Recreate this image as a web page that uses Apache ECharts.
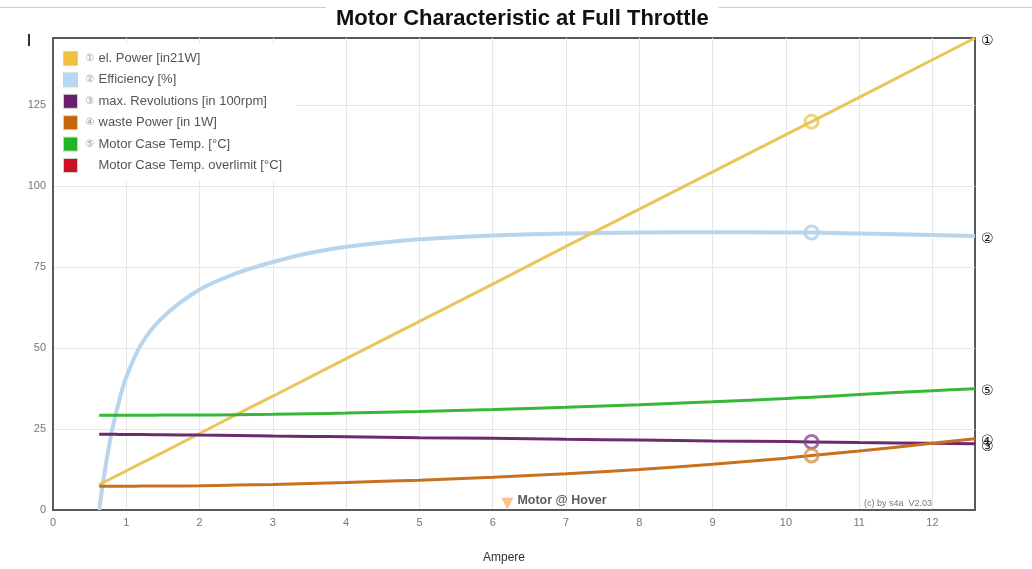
<!DOCTYPE html>
<html><head><meta charset="utf-8">
<script src="https://cdn.jsdelivr.net/npm/echarts@6/dist/echarts.min.js"></script>
<style>html,body{margin:0;padding:0;background:#fff}#c{width:1032px;height:569px}</style>
</head><body><div id="c"></div>
<script>
// ---- data ----
const ampere      = [0.63, 0.7, 0.8, 0.9, 1.0, 1.2, 1.5, 2, 2.5, 3, 3.5, 4, 5, 6, 7, 8, 9, 10, 10.35, 11, 12, 12.58];
const elPower     = [7.8, 8.6, 9.8, 10.9, 12.1, 14.4, 17.8, 23.6, 29.4, 35.1, 40.9, 46.7, 58.2, 69.7, 81.3, 92.8, 104.3, 115.8, 119.8, 127.3, 138.9, 145.6];
const efficiency  = [0, 11, 24, 33.5, 41, 51, 59.5, 68, 73, 76.5, 79.3, 81.2, 83.5, 84.7, 85.3, 85.6, 85.7, 85.6, 85.6, 85.3, 84.8, 84.5];
const revolutions = [23.4, 23.4, 23.4, 23.3, 23.3, 23.3, 23.2, 23.1, 23.0, 22.8, 22.7, 22.6, 22.3, 22.1, 21.8, 21.6, 21.3, 21.1, 21.0, 20.8, 20.6, 20.4];
const wastePower  = [7.3, 7.3, 7.3, 7.3, 7.3, 7.4, 7.4, 7.5, 7.7, 7.9, 8.2, 8.5, 9.2, 10.1, 11.2, 12.5, 14.1, 16.0, 16.8, 18.2, 20.6, 22.0];
const caseTemp    = [29.2, 29.2, 29.2, 29.2, 29.2, 29.2, 29.3, 29.3, 29.4, 29.5, 29.7, 29.9, 30.4, 31.0, 31.7, 32.5, 33.4, 34.4, 34.8, 35.6, 36.8, 37.4];
const caseTempOver = [];
const hoverIndex = 18;              // index in ampere of the hover point (10.35 A)
const motorHover = [[6.2, 1.9]];    // "Motor @ Hover" marker
const seriesNames = ['el. Power [in21W]', 'Efficiency [%]', 'max. Revolutions [in 100rpm]', 'waste Power [in 1W]', 'Motor Case Temp. [°C]', 'Motor Case Temp. overlimit [°C]'];
const seriesMarks = ['①', '②', '③', '④', '⑤', ''];
const xTicks = [0, 1, 2, 3, 4, 5, 6, 7, 8, 9, 10, 11, 12];
const yTicks = [0, 25, 50, 75, 100, 125];

// ---- styles ----
const lineColors = ['#eac55a', '#b8d5ec', '#6e2a6e', '#c9701f', '#36b836', '#cc1122'];
const legendColors = ['#f0c040', '#b3d9f7', '#6a1f6e', '#c8650a', '#22b422', '#cc1122'];
const hoverColors = ['rgba(234,197,90,0.75)', 'rgba(184,213,236,0.9)', 'rgba(130,70,140,0.75)', 'rgba(214,140,70,0.75)'];
const widths = [3, 4, 3, 3, 3, 3];
const smoothness = [false, 0.3, 0.3, 0.3, 0.3, false];
const allValues = [elPower, efficiency, revolutions, wastePower, caseTemp, caseTempOver];

const FF = '"Liberation Sans", Arial, sans-serif';
const chart = echarts.init(document.getElementById('c'), null, {renderer: 'canvas'});

const series = allValues.map((vals, i) => {
  const s = {
    name: seriesNames[i],
    type: 'line',
    data: vals.map((v, k) => [ampere[k], v]),
    showSymbol: false,
    smooth: smoothness[i],
    color: legendColors[i],
    lineStyle: {color: lineColors[i], width: widths[i]},
    z: 3 + (i === 1 ? 0 : 1),
    animation: false
  };
  if (seriesMarks[i] && vals.length) {
    s.endLabel = {show: true, formatter: seriesMarks[i], color: '#111', fontSize: 14, distance: 6, offset: [0, 3], fontFamily: 'DejaVu Sans'};
  }
  if (i < 4) {
    s.markPoint = {
      symbol: 'circle', symbolSize: 13, silent: true, animation: false,
      itemStyle: {color: 'rgba(255,255,255,0)', borderColor: hoverColors[i], borderWidth: 3},
      label: {show: false},
      data: [{coord: [ampere[hoverIndex], vals[hoverIndex]]}]
    };
  }
  return s;
});

series.push({
  name: 'hover', type: 'scatter', data: motorHover, symbol: 'triangle', symbolRotate: 180,
  symbolSize: [12, 12], itemStyle: {color: '#fbb36a'}, z: 6, animation: false,
  label: {show: true, position: 'right', distance: 4, offset: [0, -3], formatter: 'Motor @ Hover', color: '#333', fontSize: 12.5, fontWeight: 'bold', fontFamily: '"Liberation Sans Narrow", ' + FF}
});

chart.setOption({
  backgroundColor: '#fff',
  animation: false,
  textStyle: {fontFamily: FF},
  title: {
    text: 'Motor Characteristic at Full Throttle', left: 326, top: 4,
    backgroundColor: '#fff', padding: [4, 10, 4, 10],
    textStyle: {fontSize: 22, fontWeight: 'bold', color: '#111', fontFamily: FF}
  },
  grid: {left: 53, right: 57, top: 38, bottom: 57, show: true, borderColor: '#5a5a5a', borderWidth: 2, backgroundColor: '#fff'},
  xAxis: {
    type: 'value', min: 0, max: 12.58, interval: 1,
    name: 'Ampere', nameLocation: 'middle', nameGap: 42,
    nameTextStyle: {color: '#333', fontSize: 12, fontFamily: FF, padding: [0, 20, 0, 0]},
    axisLine: {show: true, lineStyle: {color: '#5a5a5a', width: 2}}, axisTick: {show: false},
    axisLabel: {color: '#777', fontSize: 11, margin: 7, showMaxLabel: false,
      formatter: v => xTicks.includes(v) ? String(v) : ''},
    splitLine: {show: true, showMinLine: false, showMaxLine: false, lineStyle: {color: '#e6e6e6', width: 1}}
  },
  yAxis: {
    type: 'value', min: 0, max: 145.6, interval: 25,
    axisLine: {show: true, lineStyle: {color: '#5a5a5a', width: 2}}, axisTick: {show: false},
    axisLabel: {color: '#777', fontSize: 11, margin: 7, showMaxLabel: false,
      formatter: v => yTicks.includes(v) ? String(v) : ''},
    splitLine: {show: true, showMinLine: false, showMaxLine: false, lineStyle: {color: '#e6e6e6', width: 1}}
  },
  legend: {
    orient: 'vertical', left: 55, top: 44, padding: [7, 14, 8, 8],
    backgroundColor: '#fff', z: 10,
    icon: 'rect', itemWidth: 14, itemHeight: 14, itemGap: 6.4,
    itemStyle: {borderColor: '#d0d0d0', borderWidth: 1},
    data: seriesNames.map((n, i) => ({name: n, itemStyle: {color: legendColors[i], borderColor: '#d0d0d0', borderWidth: 1}})),
    formatter: name => {
      const i = seriesNames.indexOf(name);
      return '{c|' + (seriesMarks[i] || ' ') + '}{t|' + name + '}';
    },
    textStyle: {
      rich: {
        c: {color: '#999', fontSize: 10, width: 13, padding: [0, 0, 0, 3], fontFamily: 'DejaVu Sans'},
        t: {color: '#555', fontSize: 13, fontFamily: FF}
      }
    },
    selectedMode: false
  },
  graphic: [
    {type: 'line', z: -1, shape: {x1: 0, y1: 7.5, x2: 1032, y2: 7.5}, style: {stroke: '#cfcfcf', lineWidth: 1}},
    {type: 'rect', shape: {x: 28, y: 34, width: 2, height: 12}, style: {fill: '#333'}},
    {type: 'text', right: 100, top: 499, style: {text: '(c) by s4a  V2.03', fill: '#777', font: '9px ' + FF}}
  ],
  series: series
});
</script></body></html>
